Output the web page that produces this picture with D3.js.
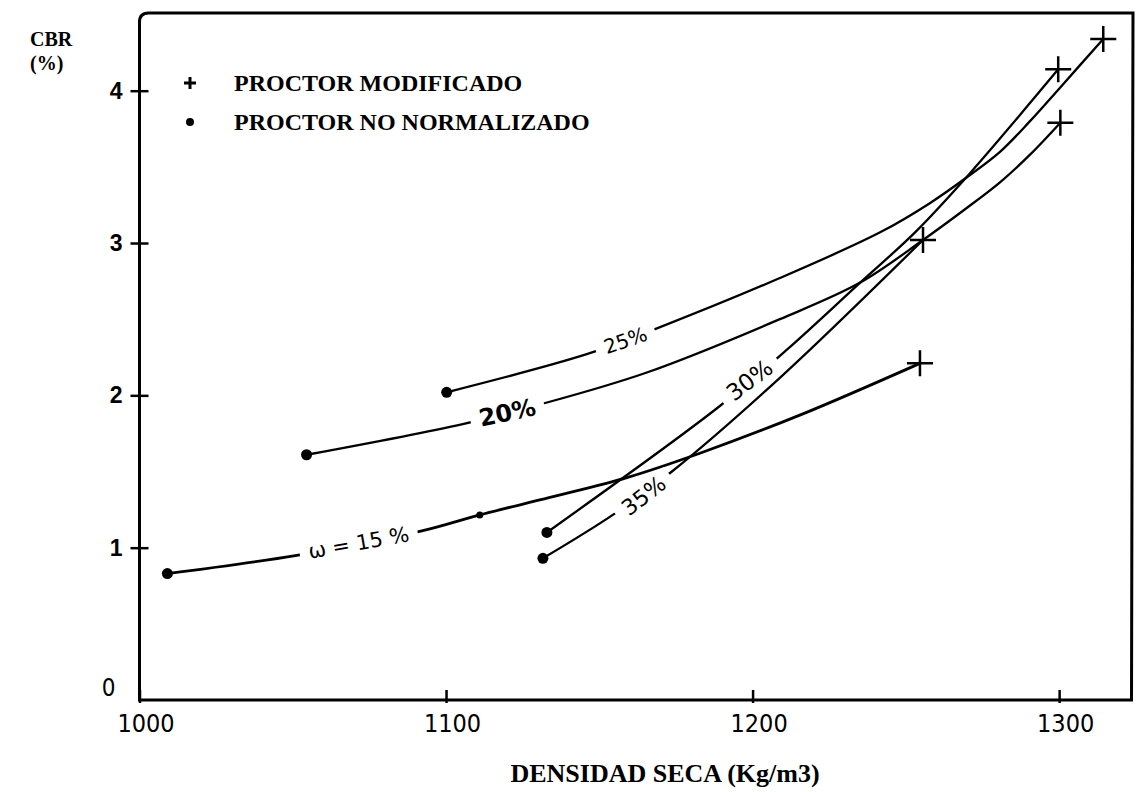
<!DOCTYPE html>
<html>
<head>
<meta charset="utf-8">
<script src="https://cdn.jsdelivr.net/npm/d3@7"></script>
<style>
  body { margin: 0; background: #fff; }
</style>
</head>
<body>
<div id="chart"></div>
<script>
// ---- data (density kg/m3, CBR %) ----
const xTicks = [1000, 1100, 1200, 1300];
const yTicks = [0, 1, 2, 3, 4];

const moisture = ["15", "20", "25", "30", "35"];
const curveLabels = ["ω = 15 %", "20%", "25%", "30%", "35%"];

const w15 = [[1009.1, 0.83], [1051.3, 0.95], [1092.1, 1.11], [1111.0, 1.215], [1133.9, 1.33],
             [1159.0, 1.46], [1182.8, 1.62], [1215.4, 1.87], [1254.6, 2.21]];
const w20 = [[1054.5, 1.61], [1105.1, 1.81], [1130.6, 1.94], [1165.5, 2.15], [1208.9, 2.50],
             [1235.1, 2.74], [1255.6, 3.02], [1269.2, 3.22], [1280.8, 3.40], [1290.5, 3.58], [1300.4, 3.79]];
const w25 = [[1100.2, 2.02], [1145.9, 2.27], [1168.8, 2.44], [1208.9, 2.77], [1241.6, 3.07],
             [1257.7, 3.26], [1269.8, 3.43], [1280.8, 3.60], [1290.5, 3.80], [1300.3, 4.02], [1314.4, 4.34]];
const w30 = [[1132.9, 1.10], [1188.7, 1.92], [1211.2, 2.30], [1235.1, 2.74], [1253.0, 3.07],
             [1271.0, 3.46], [1299.7, 4.14]];
const w35 = [[1131.6, 0.93], [1154.4, 1.215], [1173.7, 1.50], [1208.9, 2.115], [1255.6, 3.02]];

// proctor no normalizado (dots) and proctor modificado (crosses)
const noNormalizado = [[1009.1, 0.83], [1054.5, 1.61], [1100.2, 2.02], [1132.9, 1.10], [1131.6, 0.93], [1111.0, 1.215]];
const modificado = [[1254.6, 2.21], [1255.6, 3.02], [1300.4, 3.79], [1299.7, 4.14], [1314.4, 4.34]];

// where each moisture label sits on its curve (data units)
const labelAt = [[1071.5, 1.03], [1120.0, 1.885], [1158.5, 2.36], [1199.0, 2.10], [1164.5, 1.34]];

const series = [w15, w20, w25, w30, w35];

// ---- chart ----
const width = 1140, height = 792;
const svg = d3.select('#chart').append('svg')
    .attr('width', width)
    .attr('height', height)
    .style('font-family', '"Liberation Serif", serif');

const x = d3.scaleLinear().domain([1000, 1324.1]).range([139.5, 1133]);
const y = d3.scaleLinear().domain([0, 4.51]).range([700, 13]);

const ink = '#000';
const labelAngle = [-10, -12, -19, -37, -38];
const labelSize = [21, 24, 20, 23, 22];

// frame (left axis, top, right, bottom)
const x0 = x.range()[0], x1 = x.range()[1], y0 = y.range()[0], yTop = y.range()[1];
svg.append('path')
    .attr('d', `M${x0},${y0} L${x0},${yTop + 9} Q${x0},${yTop} ${x0 + 9},${yTop} L${x1},${yTop} L${x1 - 1.5},${y0} Z`)
    .attr('fill', 'none')
    .attr('stroke', ink)
    .attr('stroke-width', 3);

// x axis
const xAxisG = svg.append('g')
    .attr('transform', `translate(0,${y0})`)
    .call(d3.axisBottom(x).tickValues(xTicks).tickFormat(d3.format('d')).tickSize(10));
xAxisG.select('.domain').remove();
xAxisG.selectAll('.tick line')
    .attr('y1', -10).attr('y2', 3)
    .attr('stroke', ink).attr('stroke-width', 2.5);
xAxisG.selectAll('.tick text')
    .attr('y', 14)
    .attr('dx', 6)
    .attr('fill', ink)
    .style('font-family', '"DejaVu Sans", sans-serif')
    .style('font-stretch', 'condensed')
    .style('font-size', '25px');

// y axis
const yAxisG = svg.append('g')
    .attr('transform', `translate(${x0},0)`)
    .call(d3.axisLeft(y).tickValues(yTicks).tickFormat(d3.format('d')).tickSize(9));
yAxisG.select('.domain').remove();
yAxisG.selectAll('.tick line')
    .attr('x1', -9).attr('x2', 9)
    .attr('stroke', ink).attr('stroke-width', 2.5)
    .filter(d => d === 0).remove();
yAxisG.selectAll('.tick text')
    .attr('x', -17)
    .attr('fill', ink)
    .style('font-family', '"Liberation Sans", sans-serif')
    .style('font-weight', 'bold')
    .style('font-size', '23px');
yAxisG.selectAll('.tick text')
    .filter(d => d === 0)
    .attr('x', -24)
    .attr('dy', '-0.2em')
    .style('font-weight', 'normal')
    .style('font-family', '"DejaVu Sans", sans-serif')
    .style('font-stretch', 'condensed')
    .style('font-size', '24px');

// axis titles
svg.append('text')
    .attr('x', 665).attr('y', 782)
    .attr('text-anchor', 'middle')
    .style('font-weight', 'bold')
    .style('font-size', '26px')
    .text('DENSIDAD SECA (Kg/m3)');

svg.append('text')
    .attr('x', 30).attr('y', 46)
    .style('font-weight', 'bold')
    .style('font-size', '20px')
    .text('CBR');
svg.append('text')
    .attr('x', 30).attr('y', 70)
    .style('font-weight', 'bold')
    .style('font-size', '20px')
    .text('(%)');

// curves
const line = d3.line()
    .x(d => x(d[0]))
    .y(d => y(d[1]))
    .curve(d3.curveCatmullRom.alpha(0.5));

svg.append('g')
    .selectAll('path')
    .data(series)
    .join('path')
    .attr('d', line)
    .attr('fill', 'none')
    .attr('stroke', ink)
    .attr('stroke-width', (d, i) => i === 0 ? 2.8 : 2.3)
    .attr('stroke-linecap', 'round');

// curve labels, sitting in a gap of the curve
const labelG = svg.append('g')
    .selectAll('g')
    .data(moisture)
    .join('g')
    .attr('transform', (d, i) => `translate(${x(labelAt[i][0])},${y(labelAt[i][1])}) rotate(${labelAngle[i]})`);

labelG.each(function(d, i) {
    const g = d3.select(this);
    const t = g.append('text')
        .attr('text-anchor', 'middle')
        .attr('dominant-baseline', 'central')
        .style('font-family', '"DejaVu Sans", sans-serif')
        .style('font-weight', i === 1 ? 'bold' : 'normal')
        .style('font-size', labelSize[i] + 'px')
        .text(curveLabels[i]);
    const bb = t.node().getBBox();
    g.insert('rect', 'text')
        .attr('x', bb.x - 9).attr('y', bb.y + 2)
        .attr('width', bb.width + 18).attr('height', bb.height - 4)
        .attr('fill', '#fff');
});

// markers
svg.append('g')
    .selectAll('circle')
    .data(noNormalizado)
    .join('circle')
    .attr('cx', d => x(d[0]))
    .attr('cy', d => y(d[1]))
    .attr('r', (d, i) => i === 5 ? 3.5 : 5.5)
    .attr('fill', ink);

svg.append('g')
    .selectAll('path')
    .data(modificado)
    .join('path')
    .attr('transform', d => `translate(${x(d[0])},${y(d[1])})`)
    .attr('d', 'M-13,0H13M0,-13V13')
    .attr('stroke', ink)
    .attr('stroke-width', 2.5);

// legend
const legend = svg.append('g').attr('transform', 'translate(190,0)');
legend.append('path')
    .attr('transform', 'translate(0,83)')
    .attr('d', 'M-6,0H6M0,-6V6')
    .attr('stroke', ink)
    .attr('stroke-width', 3);
legend.append('circle')
    .attr('cx', 0).attr('cy', 122).attr('r', 4)
    .attr('fill', ink);
legend.append('text')
    .attr('x', 44).attr('y', 83)
    .attr('dominant-baseline', 'central')
    .style('font-weight', 'bold')
    .style('font-size', '24px')
    .text('PROCTOR MODIFICADO');
legend.append('text')
    .attr('x', 44).attr('y', 122)
    .attr('dominant-baseline', 'central')
    .style('font-weight', 'bold')
    .style('font-size', '24px')
    .text('PROCTOR NO NORMALIZADO');
</script>
</body>
</html>
